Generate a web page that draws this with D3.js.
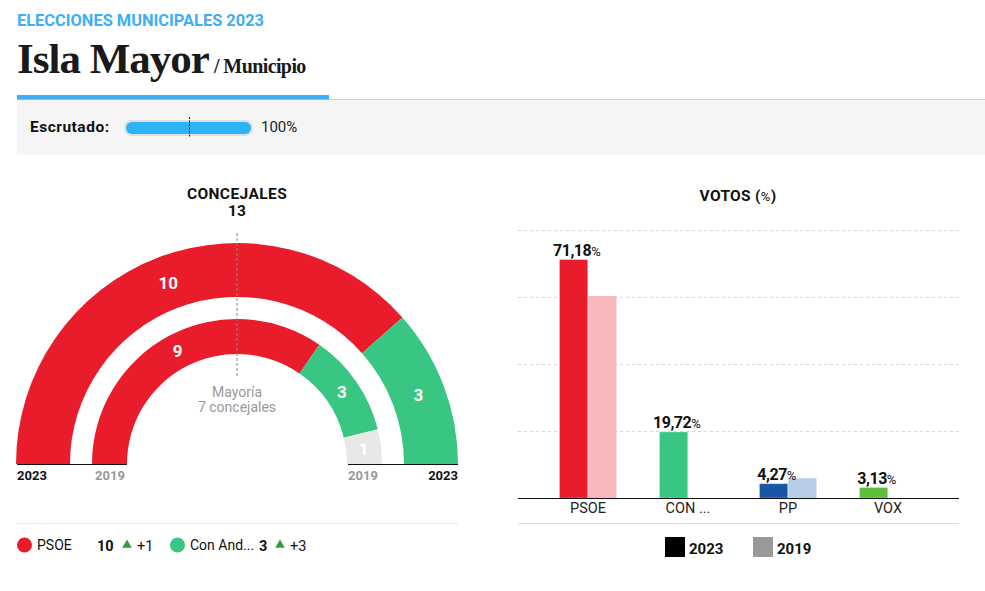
<!DOCTYPE html>
<html>
<head>
<meta charset="utf-8">
<script src="https://cdn.jsdelivr.net/npm/d3@7"></script>
<style>
  body { margin: 0; background: #fff; }
  text { font-family: Roboto, "Liberation Sans", sans-serif; }
  .serif { font-family: "Liberation Serif", "DejaVu Serif", serif; }
</style>
</head>
<body>
<div id="chart"></div>
<script>
// Seats (concejales)
const seatParties = ["PSOE", "Con And...", "Otros"];
const seats2023 = [10, 3, 0];
const seats2019 = [9, 3, 1];
const seatColors = ["#e81c2a", "#38c682", "#e8e8e8"];
const totalSeats = 13;
const majority = 7;

// Legend rows
const legendParties = ["PSOE", "Con And..."];
const legendSeats = [10, 3];
const legendDiff = ["+1", "+3"];

// Votes (%)
const voteParties = ["PSOE", "CON ...", "PP", "VOX"];
const votes2023 = [71.18, 19.72, 4.27, 3.13];
const votes2019 = [60.3, 0, 5.9, 0];
const colors2023 = ["#e81c2a", "#38c682", "#1a56a6", "#5bbf3c"];
const colors2019 = ["#f8b8bd", "#b5ecd1", "#b8cde6", "#c5ebb8"];
const yTicks = [20, 40, 60, 80];

const width = 985;
const height = 591;

const svg = d3.select("#chart")
    .append("svg")
    .attr("width", width)
    .attr("height", height);

// ---- Header ----
svg.append("text")
    .attr("x", 17).attr("y", 26)
    .attr("fill", "#3eaef5")
    .attr("font-size", 16.4).attr("font-weight", 700)
    .text("ELECCIONES MUNICIPALES 2023");

svg.append("text")
    .attr("class", "serif")
    .attr("x", 17).attr("y", 73)
    .attr("fill", "#1a1a1a")
    .attr("font-size", 43).attr("font-weight", 700)
    .attr("letter-spacing", -1)
    .text("Isla Mayor");

svg.append("text")
    .attr("class", "serif")
    .attr("x", 214).attr("y", 73)
    .attr("fill", "#1a1a1a")
    .attr("font-size", 20).attr("font-weight", 700)
    .attr("letter-spacing", -0.6)
    .text("/ Municipio");

svg.append("line")
    .attr("x1", 17).attr("x2", 985).attr("y1", 99.5).attr("y2", 99.5)
    .attr("stroke", "#cfcfcf");
svg.append("rect")
    .attr("x", 17).attr("y", 95).attr("width", 312).attr("height", 4.5)
    .attr("fill", "#3eaef5");

// ---- Escrutado panel ----
svg.append("rect")
    .attr("x", 17).attr("y", 100).attr("width", 968).attr("height", 55)
    .attr("fill", "#f5f5f5");
svg.append("text")
    .attr("x", 30).attr("y", 132)
    .attr("font-size", 15.5).attr("font-weight", 700).attr("fill", "#111")
    .attr("letter-spacing", 0.5)
    .text("Escrutado:");

const progress = d3.scaleLinear().domain([0, 100]).range([126, 251]);
svg.append("rect")
    .attr("x", 124).attr("y", 120).attr("width", 129).attr("height", 16)
    .attr("rx", 8).attr("fill", "#dedede");
svg.append("rect")
    .attr("x", 126).attr("y", 122)
    .attr("width", progress(100) - progress(0)).attr("height", 12)
    .attr("rx", 6).attr("fill", "#2bb3f7");
svg.append("line")
    .attr("x1", 189.5).attr("x2", 189.5).attr("y1", 117).attr("y2", 138)
    .attr("stroke", "#111").attr("stroke-dasharray", "2,1.5");
svg.append("text")
    .attr("x", 261).attr("y", 132)
    .attr("font-size", 15).attr("fill", "#222")
    .text("100%");

// ---- Concejales hemicycle ----
const cx = 237, cy = 464;
const hemi = svg.append("g").attr("transform", `translate(${cx},${cy})`);

svg.append("text")
    .attr("x", cx).attr("y", 199)
    .attr("text-anchor", "middle")
    .attr("font-size", 15.5).attr("font-weight", 700).attr("fill", "#111")
    .attr("letter-spacing", 0.4)
    .text("CONCEJALES");
svg.append("text")
    .attr("x", cx).attr("y", 216)
    .attr("text-anchor", "middle")
    .attr("font-size", 15.5).attr("font-weight", 700).attr("fill", "#111")
    .text(totalSeats);

const pie = d3.pie().sort(null)
    .startAngle(-Math.PI / 2).endAngle(Math.PI / 2);

const rings = [
    { values: seats2023, inner: 167, outer: 221 },
    { values: seats2019, inner: 110, outer: 145 }
];

rings.forEach(ring => {
    const arc = d3.arc().innerRadius(ring.inner).outerRadius(ring.outer);
    const slices = pie(ring.values).map((s, i) => ({ ...s, i }));

    hemi.selectAll(null)
        .data(slices.filter(d => d.value > 0))
        .enter()
        .append("path")
        .attr("d", arc)
        .attr("fill", d => seatColors[d.i]);

    hemi.selectAll(null)
        .data(slices.filter(d => d.value > 0))
        .enter()
        .append("text")
        .attr("transform", d => `translate(${arc.centroid(d)})`)
        .attr("dy", "0.35em")
        .attr("text-anchor", "middle")
        .attr("font-size", 17).attr("font-weight", 700)
        .attr("fill", "#fff")
        .text(d => d.value);
});

// majority line
svg.append("line")
    .attr("x1", cx).attr("x2", cx).attr("y1", 233).attr("y2", 376)
    .attr("stroke", "#888").attr("stroke-dasharray", "3,2");

svg.append("text")
    .attr("x", cx).attr("y", 397)
    .attr("text-anchor", "middle").attr("font-size", 14).attr("fill", "#999")
    .text("Mayoría");
svg.append("text")
    .attr("x", cx).attr("y", 412)
    .attr("text-anchor", "middle").attr("font-size", 14).attr("fill", "#999")
    .text(`${majority} concejales`);

// baselines and year labels
[[17, 127], [348, 458]].forEach(([a, b]) => {
    svg.append("line")
        .attr("x1", a).attr("x2", b).attr("y1", cy + 0.5).attr("y2", cy + 0.5)
        .attr("stroke", "#111");
});
const yearLabels = [
    { x: 17, anchor: "start", t: "2023", c: "#111" },
    { x: 95, anchor: "start", t: "2019", c: "#999" },
    { x: 348, anchor: "start", t: "2019", c: "#999" },
    { x: 458, anchor: "end", t: "2023", c: "#111" }
];
svg.selectAll(null)
    .data(yearLabels)
    .enter()
    .append("text")
    .attr("x", d => d.x).attr("y", 480)
    .attr("text-anchor", d => d.anchor)
    .attr("font-size", 13).attr("font-weight", 700)
    .attr("fill", d => d.c)
    .text(d => d.t);

// seats legend
svg.append("line")
    .attr("x1", 17).attr("x2", 458).attr("y1", 523.5).attr("y2", 523.5)
    .attr("stroke", "#e6e6e6");

const legendX = [17, 170];
legendParties.forEach((p, i) => {
    const x0 = legendX[i];
    svg.append("circle")
        .attr("cx", x0 + 7.5).attr("cy", 545).attr("r", 7.5)
        .attr("fill", seatColors[i]);
    svg.append("text")
        .attr("x", x0 + 20).attr("y", 550)
        .attr("font-size", 14).attr("fill", "#111")
        .text(p);
    const sx = i === 0 ? 97 : 259;
    svg.append("text")
        .attr("x", sx).attr("y", 551)
        .attr("font-size", 14.5).attr("font-weight", 700).attr("fill", "#111")
        .text(legendSeats[i]);
    const tx = i === 0 ? 127 : 280;
    svg.append("path")
        .attr("d", d3.symbol().type(d3.symbolTriangle).size(40))
        .attr("transform", `translate(${tx},${545})`)
        .attr("fill", "#3a9a3e");
    svg.append("text")
        .attr("x", tx + 10).attr("y", 551)
        .attr("font-size", 14.5).attr("fill", "#111")
        .text(legendDiff[i]);
});

// ---- Votos bar chart ----
const votosTitle = svg.append("text")
    .attr("x", 738).attr("y", 201)
    .attr("text-anchor", "middle")
    .attr("font-size", 15.5).attr("font-weight", 700).attr("fill", "#111")
    .attr("letter-spacing", 0.3);
votosTitle.append("tspan").text("VOTOS (");
votosTitle.append("tspan").attr("font-weight", 400).attr("font-size", 13).text("%");
votosTitle.append("tspan").text(")");

const y = d3.scaleLinear().domain([0, 80]).range([498, 230]);
const x0 = d3.scaleBand().domain(voteParties).range([538, 938]);
const x1 = d3.scaleBand().domain(["2023", "2019"]).range([0, 57]).paddingInner(0.02);

svg.selectAll(null)
    .data(yTicks)
    .enter()
    .append("line")
    .attr("x1", 518).attr("x2", 959)
    .attr("y1", d => Math.round(y(d)) + 0.5).attr("y2", d => Math.round(y(d)) + 0.5)
    .attr("stroke", "#d6d6d6").attr("stroke-dasharray", "3,3");

const groups = svg.selectAll(null)
    .data(voteParties)
    .enter()
    .append("g")
    .attr("transform", d => `translate(${x0(d) + x0.bandwidth() / 2 - 28.5},0)`);

groups.append("rect")
    .attr("x", x1("2023"))
    .attr("y", (d, i) => y(votes2023[i]))
    .attr("width", x1.bandwidth())
    .attr("height", (d, i) => y(0) - y(votes2023[i]))
    .attr("fill", (d, i) => colors2023[i])
    .attr("stroke", "#fff").attr("stroke-opacity", 0.25);

groups.filter((d, i) => votes2019[i] > 0)
    .append("rect")
    .attr("x", x1("2019"))
    .attr("y", d => y(votes2019[voteParties.indexOf(d)]))
    .attr("width", x1.bandwidth())
    .attr("height", d => y(0) - y(votes2019[voteParties.indexOf(d)]))
    .attr("fill", d => colors2019[voteParties.indexOf(d)]);

const valLabels = groups.append("text")
    .attr("x", x1("2023") + x1.bandwidth() / 2 + 3)
    .attr("y", (d, i) => y(votes2023[i]) - 4)
    .attr("text-anchor", "middle")
    .attr("font-size", 16).attr("font-weight", 700).attr("fill", "#111")
    .attr("letter-spacing", -0.5)
    .text((d, i) => votes2023[i].toFixed(2).replace(".", ","));
valLabels.append("tspan")
    .attr("font-weight", 400).attr("font-size", 13)
    .text("%");

svg.append("line")
    .attr("x1", 518).attr("x2", 959).attr("y1", 498.5).attr("y2", 498.5)
    .attr("stroke", "#111");

svg.selectAll(null)
    .data(voteParties)
    .enter()
    .append("text")
    .attr("x", d => x0(d) + x0.bandwidth() / 2)
    .attr("y", 513)
    .attr("text-anchor", "middle")
    .attr("font-size", 14.5).attr("fill", "#222")
    .text(d => d);

svg.append("line")
    .attr("x1", 518).attr("x2", 959).attr("y1", 523.5).attr("y2", 523.5)
    .attr("stroke", "#e0e0e0");

const yearLegend = [
    { t: "2023", c: "#000", x: 665 },
    { t: "2019", c: "#999", x: 753 }
];
svg.selectAll(null)
    .data(yearLegend)
    .enter()
    .append("rect")
    .attr("x", d => d.x).attr("y", 537)
    .attr("width", 20).attr("height", 20)
    .attr("fill", d => d.c);
svg.selectAll(null)
    .data(yearLegend)
    .enter()
    .append("text")
    .attr("x", d => d.x + 24).attr("y", 554)
    .attr("font-size", 15).attr("font-weight", 700).attr("fill", "#111")
    .text(d => d.t);
</script>
</body>
</html>
